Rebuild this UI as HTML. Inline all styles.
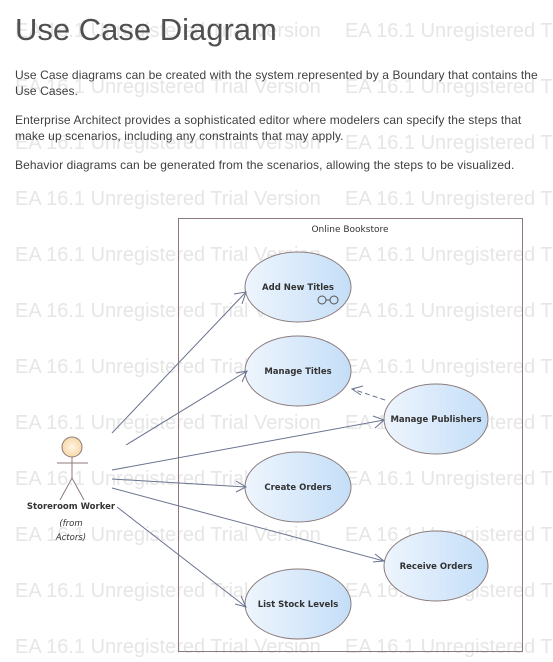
<!DOCTYPE html>
<html><head><meta charset="utf-8"><style>
body{margin:0;width:553px;height:662px;background:#fff;position:relative;overflow:hidden;font-family:"Liberation Sans",Arial,sans-serif}
.wm{position:absolute;left:0;top:0}
.t{position:absolute;left:15px;top:12px;font-size:31px;color:#505050}
.p{position:absolute;left:15px;font-size:12px;color:#404040;line-height:15.5px;white-space:nowrap;letter-spacing:0.1px}
</style></head><body>
<svg class="wm" width="553" height="662">
<g font-family="Liberation Sans,sans-serif" font-size="20" fill="#e6e6e6">
<text x="15" y="37">EA 16.1 Unregistered Trial Version</text><text x="345" y="37">EA 16.1 Unregistered Trial Version</text>
<text x="15" y="93">EA 16.1 Unregistered Trial Version</text><text x="345" y="93">EA 16.1 Unregistered Trial Version</text>
<text x="15" y="149">EA 16.1 Unregistered Trial Version</text><text x="345" y="149">EA 16.1 Unregistered Trial Version</text>
<text x="15" y="205">EA 16.1 Unregistered Trial Version</text><text x="345" y="205">EA 16.1 Unregistered Trial Version</text>
<text x="15" y="261">EA 16.1 Unregistered Trial Version</text><text x="345" y="261">EA 16.1 Unregistered Trial Version</text>
<text x="15" y="317">EA 16.1 Unregistered Trial Version</text><text x="345" y="317">EA 16.1 Unregistered Trial Version</text>
<text x="15" y="373">EA 16.1 Unregistered Trial Version</text><text x="345" y="373">EA 16.1 Unregistered Trial Version</text>
<text x="15" y="429">EA 16.1 Unregistered Trial Version</text><text x="345" y="429">EA 16.1 Unregistered Trial Version</text>
<text x="15" y="485">EA 16.1 Unregistered Trial Version</text><text x="345" y="485">EA 16.1 Unregistered Trial Version</text>
<text x="15" y="541">EA 16.1 Unregistered Trial Version</text><text x="345" y="541">EA 16.1 Unregistered Trial Version</text>
<text x="15" y="597">EA 16.1 Unregistered Trial Version</text><text x="345" y="597">EA 16.1 Unregistered Trial Version</text>
<text x="15" y="653">EA 16.1 Unregistered Trial Version</text><text x="345" y="653">EA 16.1 Unregistered Trial Version</text>
</g>
<defs><linearGradient id="g" x1="0" x2="1"><stop offset="0" stop-color="#eef5fd"/><stop offset="1" stop-color="#c4def8"/></linearGradient>
<radialGradient id="h"><stop offset="0" stop-color="#fff6e6"/><stop offset="1" stop-color="#f8d8a8"/></radialGradient></defs>
<rect x="178.5" y="218.5" width="344" height="433" fill="none" stroke="#8c7a7a"/>
<text x="350" y="232" font-size="9" text-anchor="middle" fill="#333" font-family="DejaVu Sans,sans-serif">Online Bookstore</text>
<g stroke="#8c7a7a" fill="url(#g)" stroke-width="1">
<ellipse cx="298" cy="287" rx="53" ry="35"/><ellipse cx="298" cy="371" rx="53" ry="35"/>
<ellipse cx="436" cy="419" rx="52" ry="35"/><ellipse cx="298" cy="487" rx="53" ry="35"/>
<ellipse cx="436" cy="566" rx="52" ry="35"/><ellipse cx="298" cy="604" rx="53" ry="35"/>
</g>
<g fill="none" stroke="#555" stroke-width="1"><circle cx="322" cy="300" r="4"/><circle cx="334" cy="300" r="4"/><line x1="326" y1="300" x2="330" y2="300"/></g>
<g font-family="DejaVu Sans,sans-serif" font-size="8.5" font-weight="bold" fill="#333" text-anchor="middle">
<text x="298" y="290">Add New Titles</text><text x="298" y="374">Manage Titles</text>
<text x="436" y="422">Manage Publishers</text><text x="298" y="490">Create Orders</text>
<text x="436" y="569">Receive Orders</text><text x="298" y="607">List Stock Levels</text>
<text x="71" y="509">Storeroom Worker</text></g>
<g font-family="DejaVu Sans,sans-serif" font-size="8.5" font-style="italic" fill="#333" text-anchor="middle">
<text x="71" y="526">(from</text><text x="71" y="540">Actors)</text></g>
<circle cx="72" cy="447" r="10" fill="url(#h)" stroke="#8c7a7a"/>
<g stroke="#8c7a7a" fill="none"><line x1="72" y1="457" x2="72" y2="478"/><line x1="57" y1="463" x2="88" y2="463"/><polyline points="60,500 72,478 84,500"/></g>
<g stroke="#6a7390" fill="none" stroke-width="1">
<line x1="112" y1="433" x2="246" y2="292"/><polyline points="234,294 246,292 242,304"/>
<line x1="126" y1="445" x2="247" y2="371"/><polyline points="236,373 247,371 242,382"/>
<line x1="112" y1="470" x2="384" y2="420"/><polyline points="373,416 384,420 375,428"/>
<line x1="112" y1="479" x2="246" y2="487"/><polyline points="236,481 246,487 236,492"/>
<line x1="112" y1="488" x2="384" y2="561"/><polyline points="375,554 384,561 373,562"/>
<line x1="117" y1="507" x2="246" y2="607"/><polyline points="241,596 246,607 235,604"/>
<line x1="385" y1="400" x2="352" y2="389" stroke-dasharray="5,3"/><polyline points="363,386 352,389 361,395"/>
</g>
</svg>
<div class="t">Use Case Diagram</div>
<div class="p" style="top:68px">Use Case diagrams can be created with the system represented by a Boundary that contains the<br>Use Cases.</div>
<div class="p" style="top:113px">Enterprise Architect provides a sophisticated editor where modelers can specify the steps that<br>make up scenarios, including any constraints that may apply.</div>
<div class="p" style="top:158px">Behavior diagrams can be generated from the scenarios, allowing the steps to be visualized.</div>
</body></html>
